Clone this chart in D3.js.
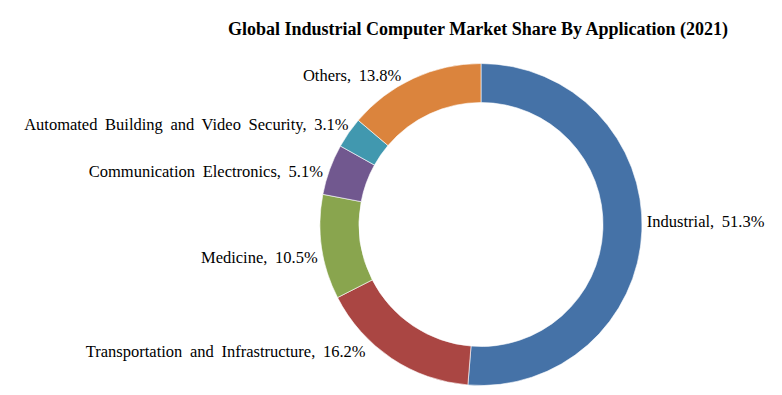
<!DOCTYPE html>
<html>
<head>
<meta charset="utf-8">
<script src="https://cdn.jsdelivr.net/npm/d3@7"></script>
<style>
  body { margin: 0; background: #fff; }
  text { font-family: "Liberation Serif", "Times New Roman", serif; fill: #000; }
</style>
</head>
<body>
<div class="chart"></div>
<script>
// Chart data
const categories = ['Industrial', 'Transportation and Infrastructure', 'Medicine',
  'Communication Electronics', 'Automated Building and Video Security', 'Others'];
const shares = [51.3, 16.2, 10.5, 5.1, 3.1, 13.8];
const colors = ['#4572A7', '#AA4643', '#89A54E', '#71588F', '#4198AF', '#DB843D'];

// label layout nudges (px) off the radial anchor, to avoid crowding
const labelNudge = [[0, -10], [-23, -11], [1, 9], [-2, 3], [4, -6], [-10, 1]];

const width = 782;
const height = 395;
const cx = 481, cy = 224.5;
const outerR = 161, innerR = 122;
const labelR = 166;

const svg = d3.select('.chart')
  .append('svg')
    .attr('width', width)
    .attr('height', height);

svg.append('text')
  .attr('x', 478)
  .attr('y', 35)
  .attr('text-anchor', 'middle')
  .style('font-size', '18px')
  .style('font-weight', 'bold')
  .text('Global Industrial Computer Market Share By Application (2021)');

const data = categories.map((c, i) => ({ name: c, value: shares[i], color: colors[i], nudge: labelNudge[i] }));

const pie = d3.pie().sort(null).value(d => d.value);
const arc = d3.arc().innerRadius(innerR).outerRadius(outerR);
const labelArc = d3.arc().innerRadius(labelR).outerRadius(labelR);

const g = svg.append('g').attr('transform', `translate(${cx},${cy})`);
const arcs = pie(data);

g.selectAll('path')
  .data(arcs)
  .enter().append('path')
    .attr('d', arc)
    .attr('fill', d => d.data.color)
    .attr('stroke', '#fff')
    .attr('stroke-width', 0.6);

g.selectAll('.label')
  .data(arcs)
  .enter().append('text')
    .attr('class', 'label')
    .each(function(d) {
      const [x, y] = labelArc.centroid(d);
      const right = x >= 0;
      d3.select(this)
        .attr('x', x + d.data.nudge[0])
        .attr('y', y + d.data.nudge[1])
        .attr('dy', '0.35em')
        .attr('text-anchor', right ? 'start' : 'end')
        .style('font-size', '16.5px')
        .style('word-spacing', '3.5px')
        .text(`${d.data.name}, ${d.data.value.toFixed(1)}%`);
    });
</script>
</body>
</html>
